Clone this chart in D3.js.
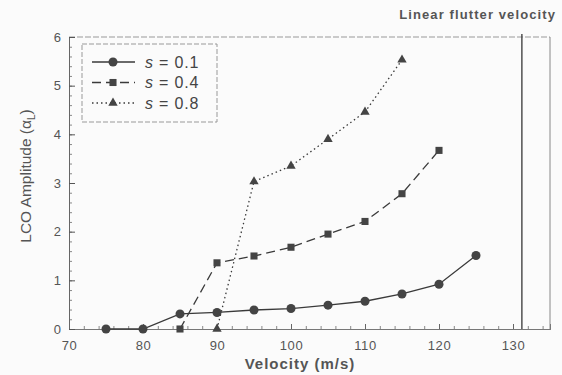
<!DOCTYPE html>
<html><head><meta charset="utf-8">
<script src="https://cdn.jsdelivr.net/npm/d3@7"></script>
<style>
html,body{margin:0;padding:0;background:#fbfbfb;}
svg{display:block;font-family:Arial,"Liberation Sans",sans-serif;}
</style></head>
<body>
<svg id="c" width="562" height="375"></svg>
<script>
const vel01 = [75, 80, 85, 90, 95, 100, 105, 110, 115, 120, 125];
const amp01 = [0, 0, 0.31, 0.34, 0.39, 0.42, 0.49, 0.57, 0.72, 0.92, 1.51];
const vel04 = [85, 90, 95, 100, 105, 110, 115, 120];
const amp04 = [0, 1.36, 1.5, 1.68, 1.95, 2.21, 2.78, 3.67];
const vel08 = [90, 95, 100, 105, 110, 115];
const amp08 = [0, 3.03, 3.35, 3.9, 4.46, 5.53];
const seriesLabels = ["0.1", "0.4", "0.8"];
const xTicks = [70, 80, 90, 100, 110, 120, 130];
const yTicks = [0, 1, 2, 3, 4, 5, 6];
const flutterVelocity = 131.2;

const svg = d3.select("#c");
const L = 69, R = 550, T = 37, B = 329;
const x = d3.scaleLinear().domain([70, 135]).range([L, R]);
const y = d3.scaleLinear().domain([0, 6]).range([B, T]);
const ink = "#3a3a3a";

// frame top and right
svg.append("line").attr("x1", L).attr("x2", R).attr("y1", T).attr("y2", T)
  .attr("stroke", "#999").attr("stroke-dasharray", "6,2");
svg.append("line").attr("x1", R).attr("x2", R).attr("y1", T).attr("y2", B)
  .attr("stroke", "#888");

// bottom axis
const gx = svg.append("g").attr("transform", `translate(0,${B})`);
gx.call(d3.axisBottom(x).tickValues(d3.range(70, 136, 2)).tickSize(-3).tickFormat(""))
  .call(g => g.selectAll("line").attr("stroke", "#888"));
gx.append("g").call(d3.axisBottom(x).tickValues(xTicks).tickSize(-5).tickPadding(12).tickFormat(d3.format("d")))
  .call(g => g.selectAll("text").attr("fill", "#555").attr("font-size", 13).attr("letter-spacing", 0.6))
  .call(g => g.selectAll("line").attr("stroke", "#666"));
gx.selectAll(".domain").attr("stroke", "#777");

// left axis
const gy = svg.append("g").attr("transform", `translate(${L},0)`);
gy.call(d3.axisLeft(y).tickValues(d3.range(0, 6.01, 0.2)).tickSize(-3).tickFormat(""))
  .call(g => g.selectAll("line").attr("stroke", "#888"));
gy.append("g").call(d3.axisLeft(y).tickValues(yTicks).tickSize(-6).tickPadding(8).tickFormat(d3.format("d")))
  .call(g => g.selectAll("text").attr("fill", "#555").attr("font-size", 13))
  .call(g => g.selectAll("line").attr("stroke", "#555"));
gy.selectAll(".domain").attr("stroke", "#666");

// flutter line
svg.append("line").attr("x1", x(flutterVelocity)).attr("x2", x(flutterVelocity))
  .attr("y1", T - 3).attr("y2", B).attr("stroke", "#444").attr("stroke-width", 1.4);

const line = d3.line().x(d => x(d[0])).y(d => y(d[1]));
const styles = [
  {dash: null, shape: d3.symbolCircle, size: 64},
  {dash: "9,5", shape: d3.symbolSquare, size: 50},
  {dash: "1.5,3", shape: d3.symbolTriangle, size: 38}
];
const data = [
  d3.zip(vel01, amp01),
  d3.zip(vel04, amp04),
  d3.zip(vel08, amp08)
];

data.forEach((pts, i) => {
  svg.append("path").attr("d", line(pts)).attr("fill", "none")
    .attr("stroke", ink).attr("stroke-width", 1.3)
    .attr("stroke-dasharray", styles[i].dash);
  svg.selectAll(null).data(pts).enter().append("path")
    .attr("d", d3.symbol().type(styles[i].shape).size(styles[i].size))
    .attr("transform", d => `translate(${x(d[0])},${y(d[1])})`)
    .attr("fill", "#444");
});

// legend
svg.append("rect").attr("x", 82).attr("y", 44).attr("width", 135).attr("height", 78)
  .attr("fill", "none").attr("stroke", "#999").attr("stroke-dasharray", "5,2");
seriesLabels.forEach((lab, i) => {
  const yy = 62 + i * 20.5;
  svg.append("line").attr("x1", 92).attr("x2", 135).attr("y1", yy).attr("y2", yy)
    .attr("stroke", ink).attr("stroke-width", 1.3).attr("stroke-dasharray", styles[i].dash);
  svg.append("path").attr("d", d3.symbol().type(styles[i].shape).size(styles[i].size))
    .attr("transform", `translate(113,${yy})`).attr("fill", "#444");
  const t = svg.append("text").attr("x", 145).attr("y", yy + 5.5)
    .attr("font-size", 16).attr("fill", "#444").attr("letter-spacing", 0.8);
  t.append("tspan").attr("font-style", "italic").text("s");
  t.append("tspan").text(" = " + lab);
});

// titles
svg.append("text").attr("x", 556).attr("y", 19).attr("text-anchor", "end")
  .attr("font-size", 13).attr("font-weight", "bold").attr("letter-spacing", 1.1)
  .attr("fill", "#555").text("Linear flutter velocity");
svg.append("text").attr("x", 300).attr("y", 369).attr("text-anchor", "middle")
  .attr("font-size", 15).attr("font-weight", "bold").attr("letter-spacing", 1)
  .attr("fill", "#555").text("Velocity (m/s)");
const yl = svg.append("text").attr("transform", "translate(31,176) rotate(-90)")
  .attr("text-anchor", "middle").attr("font-size", 15.5).attr("fill", "#555");
yl.append("tspan").text("LCO Amplitude (");
yl.append("tspan").text("α");
yl.append("tspan").attr("font-size", 10).attr("dy", 4).text("L");
yl.append("tspan").attr("dy", -4).text(")");
</script>
</body></html>
